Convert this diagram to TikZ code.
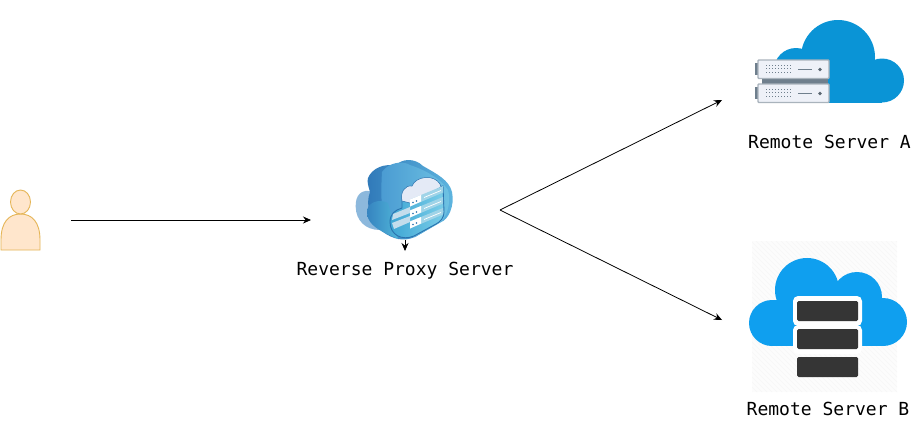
\documentclass[tikz,border=0pt]{standalone}
\usepackage{fontspec}
\setmonofont{DejaVu Sans Mono}
\usetikzlibrary{arrows.meta}
\definecolor{userfill}{HTML}{FFE6CC}
\definecolor{userline}{HTML}{E5B556}
\definecolor{cloudA}{HTML}{0A94D6}
\definecolor{cloudB}{HTML}{0F9FEF}
\definecolor{rackdark}{HTML}{353535}
\definecolor{srvface}{HTML}{EEF1F8}
\definecolor{srvedge}{HTML}{A9B3BC}
\definecolor{srvdark}{HTML}{6F7F8D}
\definecolor{pxlobe}{HTML}{8CB8DC}
\definecolor{pxdeep}{HTML}{2F78B8}
\definecolor{pxmid}{HTML}{4A9BD2}
\definecolor{pxlight}{HTML}{6FC3E3}
\definecolor{pxrim}{HTML}{5FB6E0}
\definecolor{pxlow}{HTML}{3684C0}
\definecolor{pxlowr}{HTML}{4FB4D8}
\definecolor{pxedge}{HTML}{2A72AE}
\definecolor{pxfront}{HTML}{3EA6D4}
\definecolor{pxfrontr}{HTML}{7ACDE8}
\definecolor{pxwhite}{HTML}{E4EAF6}
\definecolor{pxpale}{HTML}{C4DDEC}
\definecolor{pxrack}{HTML}{A0D4E8}
\tikzset{
  conn/.style={draw=black,line width=0.8pt,-{Stealth[length=8pt,width=7pt]}},
  lbl/.style={font=\ttfamily\fontsize{18}{20}\selectfont,inner sep=0pt,text=black},
  userpart/.style={fill=userfill,draw=userline,line width=0.9pt},
  srvbox/.style={fill=srvface,draw=srvedge,line width=1.4pt,rounded corners=0.8pt},
  darkbar/.style={fill=rackdark,rounded corners=1.5pt},
  dots/.style={line width=1pt,draw=srvdark,dash pattern=on 1.2pt off 1.8pt},
}
\begin{document}
\begin{tikzpicture}[x=1pt,y=-1pt]
\useasboundingbox (0,0) rectangle (923,432);
\fill[white] (0,0) rectangle (923,432);

% user
\path[userpart] (1,250) -- (1,240) .. controls (1,222) and (9,214) .. (20.5,214) .. controls (32,214) and (40,222) .. (40,240) -- (40,250) -- cycle;
\path[userpart] (20.5,202) ellipse (10pt and 12pt);

% proxy cloud
\fill[pxlobe] (373,192) .. controls (362,188) and (355,195) .. (355.7,207) .. controls (356,220) and (365,230) .. (380,230) -- (395,225) -- (385,192) -- cycle;
\shade[left color=pxdeep,right color=pxrim] (368,178) .. controls (372,168) and (385,163) .. (395,166) .. controls (402,158) and (415,158) .. (423,166) .. controls (437,174) and (449,180) .. (452,192) .. controls (455,206) and (448,220) .. (441,222) -- (415,237) .. controls (403,242) and (393,239) .. (383,232) .. controls (370,222) and (365,205) .. (370,192) .. controls (368,185) and (367,182) .. (368,178) -- cycle;
\shade[left color=pxmid,right color=pxlight] (382,172) .. controls (388,163) and (402,160) .. (410,165) .. controls (425,170) and (440,178) .. (448,190) .. controls (452,205) and (445,218) .. (441,222) -- (415,237) -- (395,235) .. controls (382,225) and (380,205) .. (382,172) -- cycle;
\shade[left color=pxlow,right color=pxlowr] (367,212) .. controls (367,203) and (378,198) .. (388,203) -- (398,239) -- (385,233) .. controls (375,228) and (367,222) .. (367,212) -- cycle;
\shade[left color=pxfront,right color=pxfrontr,draw=pxedge,line width=0.9pt] (390,222) .. controls (390,214) and (395,210) .. (402,208) -- (402,196) -- (443,186) -- (444,212) .. controls (444,218) and (440,222) .. (436,224) -- (414,236) .. controls (402,241) and (390,235) .. (390,222) -- cycle;
\fill[pxpale] (393,214) -- (410,207) -- (410,213) -- (392,220) -- cycle;
\fill[pxpale] (392,223) -- (410,216) -- (410,222) -- (394,229) -- cycle;
\fill[pxwhite,draw=pxedge,line width=0.5pt] (402,201) .. controls (400,192) and (405,185) .. (412,186) .. controls (416,176) and (434,174) .. (440,184) -- (441,187) -- (410,203) -- cycle;
\foreach \k in {0,11,22}{
  \fill[pxrack] (410,199.5+\k) -- (443,186+\k) -- (443,192.5+\k) -- (410,206.5+\k) -- cycle;
  \fill[white] (410,199.5+\k) -- (421,195+\k) -- (421,201.5+\k) -- (410,206.5+\k) -- cycle;
  \draw[white,line width=0.7pt] (424,197.5+\k) -- (441,190.5+\k);
  \fill[pxedge] (413,202.5+\k) circle (0.8pt);
  \fill[pxedge] (416.5,201+\k) circle (0.8pt);
}
\coordinate (pdrop) at (405,240);
\coordinate (pdropend) at (405,251);
\draw[conn] (pdrop) -- (pdropend);

% server A cloud
\fill[cloudA] (838,57) circle (37pt);
\fill[cloudA] (882,80.5) circle (22pt);
\fill[cloudA] (796,70) circle (22pt);
\fill[cloudA] (796,65) rectangle (882,102.5);
\fill[srvdark] (762,79) rectangle (828,84);
\foreach \ya in {60,84}{
  \fill[srvdark] (755,\ya+3) rectangle (758,\ya+15);
  \path[srvbox] (758,\ya) rectangle (829,\ya+18.5);
  \foreach \yb in {5,8.5,12}{
    \draw[dots] (766,\ya+\yb) -- (791,\ya+\yb);
  }
  \draw[srvdark,line width=1.3pt] (798,\ya+9.5) -- (812,\ya+9.5);
  \fill[srvdark!80!black] (820,\ya+9.5) circle (1.8pt);
}

% server B cloud
\fill[black!1] (752,241) rectangle (897,392);
\begin{scope}
  \clip (752,241) rectangle (897,392);
  \foreach \k in {0,5,...,300}{
    \draw[black!3,line width=0.4pt] (752+\k,392) -- (752+\k-151,241);
  }
\end{scope}
\fill[cloudB] (772,323) circle (23pt);
\fill[cloudB] (883,322) circle (24pt);
\fill[cloudB] (807,290) circle (32pt);
\fill[cloudB] (857,297) circle (25pt);
\fill[cloudB] (772,300) rectangle (883,346);
\fill[white,rounded corners=5pt] (793,296) rectangle (862,326);
\fill[white,rounded corners=5pt] (793,325) rectangle (862,354);
\fill[darkbar] (797,301) rectangle (858,321);
\fill[darkbar] (797,329) rectangle (858,349);
\fill[darkbar] (797,357) rectangle (858,377);

% connectors
\coordinate (ustart) at (71,220);
\coordinate (pin) at (311,220);
\coordinate (pout) at (500,210);
\coordinate (ain) at (722,100);
\coordinate (bin) at (722,320);
\draw[conn] (ustart) -- (pin);
\draw[conn] (pout) -- (ain);
\draw[conn] (pout) -- (bin);

% labels
\node[lbl,anchor=base] (proxylabel) at (405,275) {Reverse Proxy Server};
\node[lbl,anchor=base] (labela) at (829.5,148) {Remote Server A};
\node[lbl,anchor=base] (labelb) at (828,415) {Remote Server B};
\end{tikzpicture}
\end{document}
